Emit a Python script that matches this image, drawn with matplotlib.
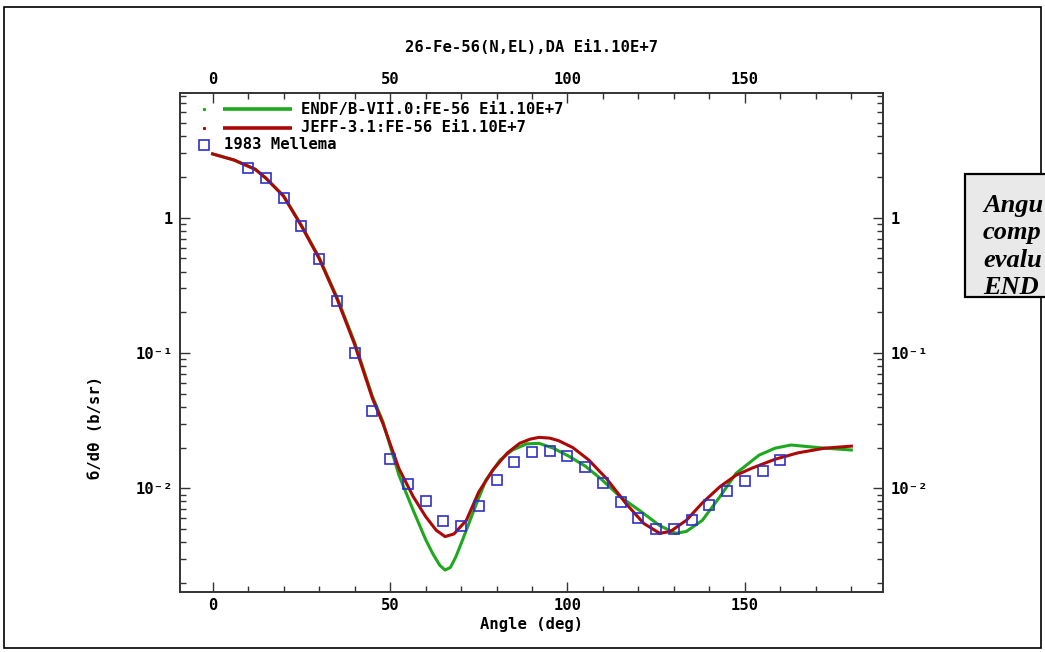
import matplotlib
matplotlib.use("Agg")
import matplotlib.pyplot as plt
from matplotlib.patches import Rectangle
from matplotlib.ticker import FixedLocator, FixedFormatter, LogLocator, NullFormatter, MultipleLocator

# ---------------- data ----------------
title_text = "26-Fe-56(N,EL),DA Ei1.10E+7"
x_label = "Angle (deg)"
y_label = "б/dθ (b/sr)"

endf_label = "ENDF/B-VII.0:FE-56 Ei1.10E+7"
jeff_label = "JEFF-3.1:FE-56 Ei1.10E+7"
mellema_label = "1983 Mellema"

endf_angle = [0, 6, 12, 15, 20, 25, 30, 35, 40, 45, 48, 52.5, 56.5, 60, 62, 64, 65.5, 67,
              68.5, 70.5, 74, 77, 81, 84.5, 88.5, 92, 96, 100.5, 105, 109.5, 115, 120.5, 126,
              130.5, 133.5, 138, 143, 147.5, 154, 158.5, 163, 168, 172.5, 180]
endf_val = [2.96, 2.67, 2.28, 1.96, 1.45, 0.88, 0.51, 0.26, 0.12, 0.048, 0.031, 0.0125,
            0.0069, 0.0042, 0.0033, 0.0027, 0.00249, 0.0026, 0.0031, 0.0042, 0.0073, 0.0115,
            0.0162, 0.0192, 0.0213, 0.0215, 0.0198, 0.0172, 0.0146, 0.0117, 0.0086, 0.0068,
            0.0053, 0.00465, 0.0048, 0.0058, 0.0087, 0.0129, 0.0176, 0.0198, 0.0209, 0.0203,
            0.0198, 0.0192]

jeff_angle = [0, 6, 12, 15, 20, 25, 30, 35, 40, 45, 48, 52.5, 56.5, 60, 63, 65.5, 68, 71.5,
              75, 79, 83, 86.5, 89.5, 92, 95, 97.5, 101.5, 106, 111, 116.5, 121.5, 126, 129,
              133.5, 138, 143, 147.5, 152, 158.5, 165, 172.5, 180]
jeff_val = [2.96, 2.67, 2.28, 1.96, 1.44, 0.87, 0.50, 0.253, 0.116, 0.0464, 0.030, 0.0140,
            0.0087, 0.0062, 0.0049, 0.0044, 0.0046, 0.0058, 0.0094, 0.0137, 0.0182, 0.0215,
            0.0231, 0.0238, 0.0235, 0.0225, 0.0200, 0.0162, 0.0118, 0.0077, 0.0055, 0.00465,
            0.0048, 0.0058, 0.0078, 0.0103, 0.0125, 0.0141, 0.0164, 0.0183, 0.0198, 0.0205]

mellema_angle = [10, 15, 20, 25, 30, 35, 40, 45, 50, 55, 60, 65, 70, 75, 80, 85, 90, 95,
                 100, 105, 110, 115, 120, 125, 130, 135, 140, 145, 150, 155, 160]
mellema_val = [2.34, 1.97, 1.405, 0.864, 0.495, 0.242, 0.1005, 0.0375, 0.01648, 0.01082,
               0.00810, 0.00570, 0.00529, 0.00740, 0.01151, 0.01574, 0.01846, 0.01889,
               0.01723, 0.01444, 0.01099, 0.00792, 0.00607, 0.00498, 0.00498, 0.00580,
               0.00757, 0.00951, 0.01133, 0.01349, 0.01619]

x_ticks = [0, 50, 100, 150]
x_tick_labels = ["0", "50", "100", "150"]
y_ticks = [1, 0.1, 0.01]
y_tick_labels = ["1", "10⁻¹", "10⁻²"]

# only the part of the side note that is visible in the picture
note_lines = ["Angu", "comp", "evalu", "END"]

# ---------------- style ----------------
GREEN = "#1ea81e"
RED = "#ad0808"
BLUE = "#2f2fc8"
MONO = "DejaVu Sans Mono"
FS = 11.2

fig = plt.figure(figsize=(10.45, 6.52), dpi=100)
fig.patch.set_facecolor("white")

# outer border
fig.patches.append(Rectangle((4 / 1045, 1 - 648 / 652), (1041 - 4) / 1045, (648 - 7) / 652,
                             transform=fig.transFigure, fill=False, edgecolor="black",
                             linewidth=1.2, zorder=1))

ax = fig.add_axes([180 / 1045, 1 - 592 / 652, (883.3 - 180) / 1045, (592 - 92.5) / 652])
ax.set_yscale("log")
ax.set_xlim(-9.2, 189)
ax.set_ylim(0.001713, 8.42)

ax.plot(endf_angle, endf_val, color=GREEN, lw=2.2, zorder=3, solid_joinstyle="round")
ax.plot(jeff_angle, jeff_val, color=RED, lw=2.2, zorder=4, solid_joinstyle="round")
ax.plot(mellema_angle, mellema_val, linestyle="none", marker="s", ms=6.5,
        markerfacecolor="none", markeredgecolor=BLUE, mew=1.2, zorder=5)

# ticks
ax.xaxis.set_major_locator(FixedLocator(x_ticks))
ax.xaxis.set_major_formatter(FixedFormatter(x_tick_labels))
ax.xaxis.set_minor_locator(MultipleLocator(10))
ax.yaxis.set_major_locator(FixedLocator(y_ticks))
ax.yaxis.set_major_formatter(FixedFormatter(y_tick_labels))
ax.yaxis.set_minor_locator(LogLocator(base=10, subs=[2, 3, 4, 5, 6, 7, 8, 9]))
ax.yaxis.set_minor_formatter(NullFormatter())

ax.tick_params(which="both", direction="in", top=True, right=True,
               labeltop=True, labelright=True, color="#333333", width=1.0)
ax.tick_params(which="major", length=7)
ax.tick_params(which="minor", length=4)
ax.tick_params(axis="x", which="major", pad=4)
ax.tick_params(axis="y", which="major", pad=5)
for t in ax.xaxis.get_major_ticks() + ax.yaxis.get_major_ticks():
    for lab in (t.label1, t.label2):
        lab.set_fontfamily(MONO)
        lab.set_fontweight("bold")
        lab.set_fontsize(FS)

for sp in ax.spines.values():
    sp.set_linewidth(1.4)
    sp.set_color("#333333")

# titles / labels
fig.text(531.5 / 1045, 1 - 47 / 652, title_text, ha="center", va="center",
         fontfamily=MONO, fontweight="bold", fontsize=FS)
fig.text(531.5 / 1045, 1 - 625 / 652, x_label, ha="center", va="center",
         fontfamily=MONO, fontweight="bold", fontsize=FS)
fig.text(95 / 1045, 1 - 427 / 652, y_label, ha="center", va="center", rotation=90,
         fontfamily=MONO, fontweight="bold", fontsize=FS)

# legend (manual, like the original layout)
rows_y = [0.9664, 0.9295, 0.8949]
for yy, col, lab in [(rows_y[0], GREEN, endf_label), (rows_y[1], RED, jeff_label)]:
    ax.plot([0.0348], [yy], marker="s", ms=1.2, color=col, transform=ax.transAxes,
            clip_on=False, zorder=6, linestyle="none")
    ax.plot([0.0611, 0.1593], [yy, yy], color=col, lw=2.6, transform=ax.transAxes,
            clip_on=False, zorder=6, solid_capstyle="butt")
    ax.text(0.1716, yy, lab, transform=ax.transAxes, ha="left", va="center",
            fontfamily=MONO, fontweight="bold", fontsize=FS)
ax.plot([0.0348], [rows_y[2]], marker="s", ms=6.5, markerfacecolor="none",
        markeredgecolor=BLUE, mew=1.2, transform=ax.transAxes, clip_on=False,
        linestyle="none", zorder=6)
ax.text(0.0626, rows_y[2], mellema_label, transform=ax.transAxes, ha="left", va="center",
        fontfamily=MONO, fontweight="bold", fontsize=FS)

# side note box (cut at the right edge)
fig.patches.append(Rectangle((965 / 1045, 1 - 297 / 652), 0.2, (297 - 174) / 652,
                             transform=fig.transFigure, facecolor="#e9e9e9",
                             edgecolor="black", linewidth=1.6, zorder=5))
for i, line in enumerate(note_lines):
    fig.text(983 / 1045, 1 - (212 + i * 27.5) / 652, line, ha="left", va="baseline",
             fontfamily="Liberation Serif", fontweight="bold", fontstyle="italic",
             fontsize=19, zorder=6)

fig.savefig("out.png", dpi=100)
